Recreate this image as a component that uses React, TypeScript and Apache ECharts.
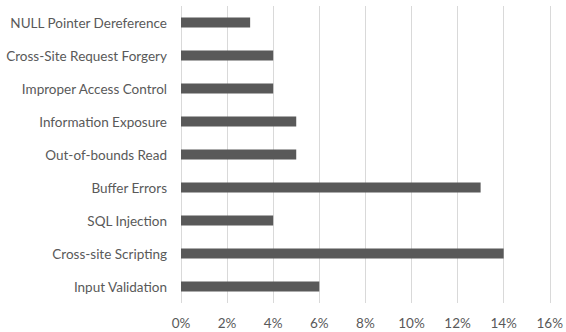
import React, { useEffect, useRef } from "react";
import * as echarts from "echarts";

// Categories listed bottom-to-top, as the category axis draws them
const categories = [
  "Input Validation",
  "Cross-site Scripting",
  "SQL Injection",
  "Buffer Errors",
  "Out-of-bounds Read",
  "Information Exposure",
  "Improper Access Control",
  "Cross-Site Request Forgery",
  "NULL Pointer Dereference",
];

// Share of vulnerabilities per category, in percent
const shares = [6, 14, 4, 13, 5, 5, 4, 4, 3];

const FONT = "Lato, 'Open Sans', sans-serif";
const TEXT_COLOR = "#595959";

export default function App() {
  const ref = useRef<HTMLDivElement>(null);

  useEffect(() => {
    if (!ref.current) return;
    const chart = echarts.init(ref.current, null, { renderer: "svg" });
    chart.setOption({
      animation: false,
      grid: { left: 181, right: 15, top: 6, bottom: 29, containLabel: false },
      xAxis: {
        type: "value",
        min: 0,
        max: 16,
        interval: 2,
        axisLine: { show: false },
        axisTick: { show: false },
        splitLine: { show: true, lineStyle: { color: "#d9d9d9", width: 1 } },
        axisLabel: {
          formatter: (v: number) => `${v}%`,
          color: TEXT_COLOR,
          fontFamily: FONT,
          fontSize: 13.5,
          margin: 13,
        },
      },
      yAxis: {
        type: "category",
        data: categories,
        axisLine: { show: false },
        axisTick: { show: false },
        axisLabel: {
          color: TEXT_COLOR,
          fontFamily: FONT,
          fontSize: 13.5,
          margin: 14,
        },
      },
      series: [
        {
          type: "bar",
          data: shares,
          barWidth: 10,
          itemStyle: { color: "#595959" },
        },
      ],
    });
    return () => chart.dispose();
  }, []);

  return <div ref={ref} style={{ width: 566, height: 332, position: "absolute", left: 0, top: 0 }} />;
}
